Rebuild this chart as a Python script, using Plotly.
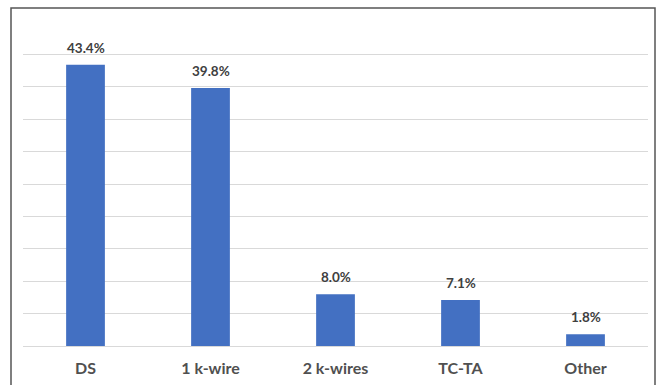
import plotly.graph_objects as go

categories = ["DS", "1 k-wire", "2 k-wires", "TC-TA", "Other"]
values = [43.4, 39.8, 8.0, 7.1, 1.8]
labels = ["43.4%", "39.8%", "8.0%", "7.1%", "1.8%"]

fig = go.Figure()
fig.add_trace(go.Bar(
    x=categories, y=values, marker=dict(color="#4370C2", line=dict(width=0)),
    width=0.31, hoverinfo="skip",
))

for c, v, t in zip(categories, values, labels):
    fig.add_annotation(x=c, y=v, text=t, showarrow=False, yanchor="bottom",
                       yshift=7, font=dict(family="Lato", size=13.5, color="#404040", weight="bold"))

W, H = 660, 385
l, r, t, b = 23, 12, 22, 39
pw, ph = W - l - r, H - t - b
fig.add_shape(type="rect", xref="paper", yref="paper",
              x0=(11 - l) / pw, x1=(655 - l) / pw,
              y0=-0.5, y1=(H - b - 8) / ph,
              line=dict(color="#555555", width=1.5), fillcolor="rgba(0,0,0,0)", layer="above")

fig.update_layout(
    width=W, height=H, margin=dict(l=l, r=r, t=t, b=b, autoexpand=False),
    paper_bgcolor="white", plot_bgcolor="white", showlegend=False, bargap=0.69,
    xaxis=dict(showgrid=False, showline=False, ticks="", ticklabelstandoff=11, automargin=False,
               tickfont=dict(family="Lato", size=16, color="#505050", weight="bold")),
    yaxis=dict(range=[0, 50], dtick=5, showticklabels=False, showgrid=True, automargin=False,
               gridcolor="#d9d9d9", gridwidth=1.2, zeroline=True, zerolinecolor="#d9d9d9",
               zerolinewidth=1.2, showline=False),
)
fig.write_html("out.html")
